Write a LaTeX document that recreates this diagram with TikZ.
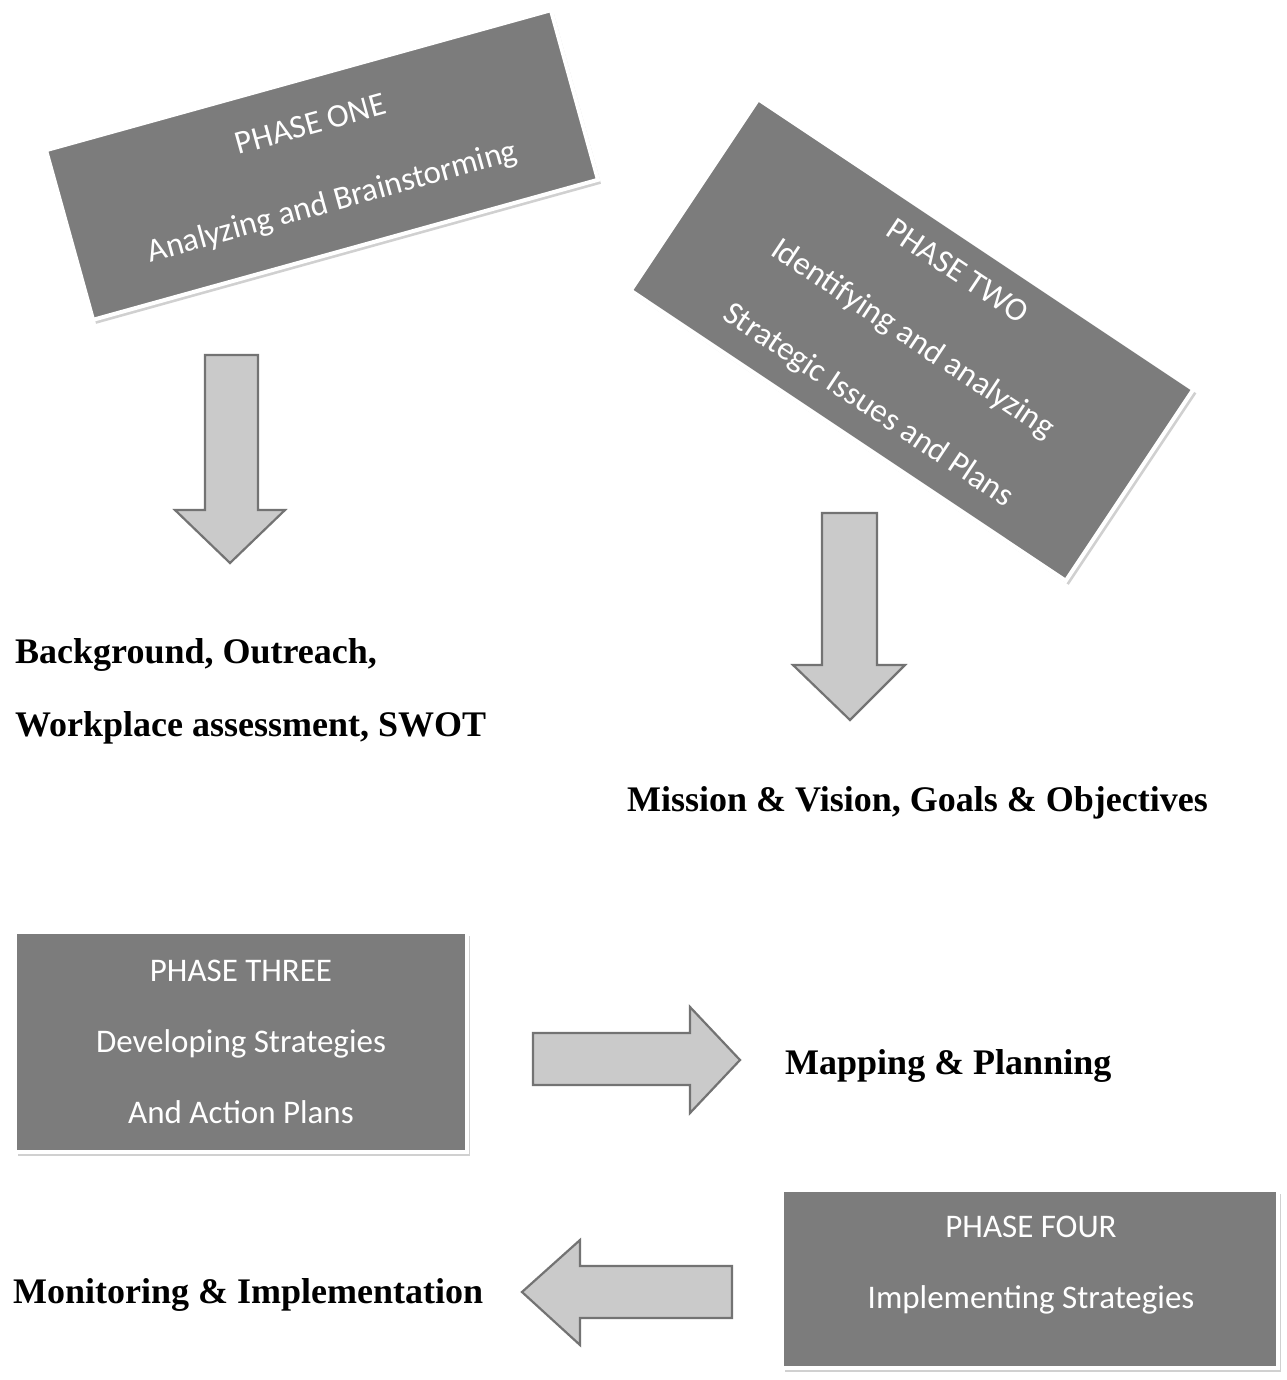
\documentclass[tikz,border=0pt]{standalone}
\usepackage{fontspec}
\setmainfont{Liberation Serif}
\newfontfamily\calib{Carlito}
\usetikzlibrary{shadows}
\definecolor{boxgray}{RGB}{124,124,124}
\definecolor{arrowfill}{RGB}{202,202,202}
\definecolor{arrowline}{RGB}{115,115,115}
\tikzset{
  phasebox/.style={draw=white, line width=4pt, fill=boxgray, inner sep=0pt,
    drop shadow={shadow xshift=3pt, shadow yshift=-4pt, fill=black!30, opacity=0.6},
    text=white, align=center, font={\calib\fontsize{33pt}{80pt}\selectfont}},
  boxtext/.style={text=white, align=center, inner sep=0pt, font={\calib\fontsize{33pt}{71pt}\selectfont}},
  blockarrow/.style={draw=arrowline, line width=2.2pt, fill=arrowfill, line join=miter},
  outtext/.style={inner sep=0pt, anchor=base west, font={\bfseries\fontsize{36pt}{40pt}\selectfont}}
}
\begin{document}
\begin{tikzpicture}[x=1pt,y=-1pt]
\useasboundingbox[fill=white] (0,0) rectangle (1286,1380);

% Phase boxes
\node[phasebox, rotate=15.5, minimum width=524pt, minimum height=176pt] (p1) at (322,165)
  {PHASE ONE\\Analyzing and Brainstorming};
\node[phasebox, rotate=-33.7, minimum width=523pt, minimum height=230pt] (p2) at (912,340)
  {PHASE TWO\\Identifying and analyzing\\Strategic Issues and Plans};
\node[phasebox, minimum width=452pt, minimum height=220pt] (p3) at (241,1042) {};
\node[boxtext] (p3t) at (p3.center) {PHASE THREE\\Developing Strategies\\And Action Plans};
\node[phasebox, minimum width=496pt, minimum height=178pt] (p4) at (1030,1279) {};
\node[boxtext] (p4t) at (1031,1265) {PHASE FOUR\\Implementing Strategies};

% Outcome texts
\node[outtext] (o1a) at (15,663) {Background, Outreach,};
\node[outtext] (o1b) at (15,736) {Workplace assessment, SWOT};
\node[outtext] (o2) at (627,811) {Mission \& Vision, Goals \& Objectives};
\node[outtext] (o3) at (785,1074) {Mapping \& Planning};
\node[outtext] (o4) at (13,1303) {Monitoring \& Implementation};

% Block arrows
\draw[blockarrow] (205,355) -- (258,355) -- (258,510) -- (285,510) -- (230,563)
  -- (175,510) -- (205,510) -- cycle;
\draw[blockarrow] (822,513) -- (877,513) -- (877,665) -- (905,665) -- (850,720)
  -- (793,665) -- (822,665) -- cycle;
\draw[blockarrow] (533,1033) -- (690,1033) -- (690,1007) -- (740,1060) -- (690,1113)
  -- (690,1085) -- (533,1085) -- cycle;
\draw[blockarrow] (732,1266) -- (580,1266) -- (580,1240) -- (522,1292) -- (580,1345)
  -- (580,1318) -- (732,1318) -- cycle;
\end{tikzpicture}
\end{document}
